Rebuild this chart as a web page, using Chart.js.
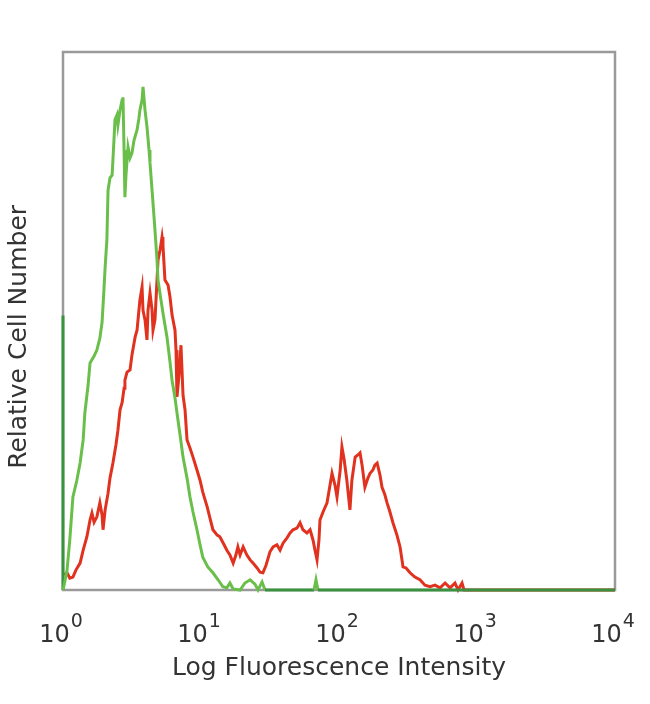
<!DOCTYPE html>
<html>
<head>
<meta charset="utf-8">
<script src="https://cdn.jsdelivr.net/npm/chart.js@4"></script>
<style>
  html, body { margin: 0; padding: 0; background: #fff; }
  #wrap { width: 650px; height: 704px; }
</style>
</head>
<body>
<div id="wrap"><canvas id="histChart"></canvas></div>
<script>
// 蛍光強度 (log軸) と相対細胞数
const greenIntensity = [1, 1, 1.03, 1.07, 1.12, 1.18, 1.26, 1.33, 1.40, 1.44, 1.52, 1.57, 1.68, 1.76, 1.85, 1.92, 1.98,
  2.02, 2.08, 2.12, 2.19, 2.27, 2.34, 2.38, 2.46, 2.50, 2.59, 2.68, 2.72, 2.77, 2.81, 2.86, 2.96, 3.06,
  3.16, 3.27, 3.44, 3.55, 3.61, 3.74, 3.80, 3.93, 4.06, 4.20, 4.27, 4.42, 4.64, 4.80, 4.88, 5.13, 5.30,
  5.67, 5.96, 6.17, 6.48, 6.70, 7.05, 7.41, 7.92, 8.32, 8.75, 9.35, 9.84, 10.3, 11.2, 12.2, 13.3, 14.4,
  15.4, 16.2, 17.1, 19.2, 20.8, 22.7, 24.6, 25.9, 27.7, 29.1, 65.9, 68.1, 70.4, 10000];
const greenCount = [51, 0, 1.5, 3.7, 9.3, 17.3, 20.4, 23.6, 27.9, 32.9, 38.1, 42.2, 43.5, 44.6, 46.8, 49.8, 55.8,
  60.0, 65.1, 74.3, 76.6, 77.1, 83.6, 87.4, 88.3, 86.4, 89.2, 91.1, 91.6, 81.8, 73.0, 77.1, 82.3, 80.3,
  81.2, 83.6, 85.5, 87.7, 89.2, 91.1, 93.5, 89.2, 86.1, 81.8, 79.4, 74.3, 66.9, 61.3, 57.6, 53.9, 51.5,
  47.0, 42.4, 39.0, 35.7, 32.9, 28.8, 24.7, 20.8, 17.3, 14.5, 11.2, 8.4, 6.1, 4.3, 3.2, 1.9, 0.6,
  0.4, 1.3, 0.2, 0, 1.3, 1.9, 1.1, 0, 1.5, 0, 0, 1.9, 0, 0];

const redIntensity = [1.02, 1.07, 1.12, 1.18, 1.24, 1.33, 1.40, 1.49, 1.57, 1.62, 1.68, 1.76, 1.85, 1.92, 1.95,
  2.02, 2.12, 2.19, 2.30, 2.42, 2.50, 2.59, 2.68, 2.77, 2.81, 2.91, 3.06, 3.16, 3.33, 3.44, 3.55, 3.61,
  3.74, 3.80, 3.93, 4.06, 4.13, 4.27, 4.42, 4.49, 4.64, 4.80, 4.88, 5.05, 5.22, 5.30, 5.48, 5.77, 5.96,
  6.17, 6.48, 6.59, 6.70, 6.93, 7.16, 7.41, 7.66, 7.92, 8.32, 8.75, 9.35, 9.84, 10.3, 11.1, 11.6, 12.2,
  13.1, 13.7, 14.7, 15.4, 16.2, 17.1, 17.9, 18.5, 19.2, 20.2, 21.5, 22.7, 23.8, 25.5, 26.8, 28.1, 29.6,
  31.6, 33.3, 35.5, 37.4, 39.3, 42.0, 44.2, 46.4, 49.6, 52.2, 54.8, 58.6, 61.7, 64.8, 67.0, 69.3, 71.6,
  72.8, 76.6, 81.9, 86.1, 89.0, 93.5, 96.7, 102, 105, 109, 114, 118, 120, 124, 131, 137, 142, 147, 154,
  162, 168, 176, 182, 189, 198, 205, 215, 223, 234, 246, 263, 277, 291, 306, 327, 355, 386, 420, 457,
  496, 540, 587, 638, 693, 729, 779, 805, 10000];
const redCount = [2.8, 3.2, 2.2, 2.4, 3.7, 5.0, 7.4, 9.9, 13.0, 14.3, 12.6, 13.6, 16.2, 13.9, 11.2,
  14.9, 18.0, 20.8, 23.6, 27.0, 29.7, 33.5, 34.8, 37.5, 39.0, 40.5, 40.9, 43.7, 47.0, 48.3, 52.0, 53.9,
  56.3, 52.0, 50.2, 46.5, 52.0, 55.2, 52.0, 48.3, 50.2, 57.6, 61.3, 63.2, 65.6, 64.1, 57.6, 56.7, 54.5,
  51.1, 48.3, 44.6, 35.9, 40.0, 45.5, 36.2, 33.5, 27.9, 26.4, 24.7, 22.3, 20.4, 18.2, 15.4, 13.4, 11.2,
  10.2, 9.9, 8.4, 7.4, 6.5, 5.0, 6.5, 8.0, 6.5, 8.0, 6.5, 5.6, 5.0, 4.1, 3.3, 3.2, 4.6,
  7.1, 8.0, 8.4, 7.4, 8.7, 9.7, 10.6, 11.2, 11.5, 12.5, 11.2, 10.6, 11.2, 9.3, 7.4, 5.6, 9.3,
  13.0, 14.5, 16.2, 19.5, 21.7, 19.5, 17.3, 22.3, 26.6, 24.2, 20.4, 16.7, 14.9, 20.4, 24.7, 25.1, 25.5, 23.2, 19.1,
  20.8, 21.7, 22.3, 23.2, 23.6, 21.4, 19.1, 17.7, 16.2, 14.5, 12.5, 10.2, 8.0, 4.3, 4.1, 3.2, 2.4, 1.9, 0.9, 0.6,
  0.9, 0.4, 1.3, 0.4, 1.3, 0, 1.3, 0, 0];

const decades = [1, 10, 100, 1000, 10000];

const toPoints = (xs, ys) => xs.map((x, i) => ({ x: x, y: ys[i] }));

const FONT = "'DejaVu Sans', Verdana, sans-serif";
const TEXT = '#333333';
const FRAME = '#9a9a9a';

// 枠線を四方に描く
const framePlugin = {
  id: 'frame',
  beforeDatasetsDraw(chart) {
    const a = chart.chartArea;
    const c = chart.ctx;
    c.save();
    c.strokeStyle = FRAME;
    c.lineWidth = 2.5;
    c.strokeRect(a.left, a.top, a.right - a.left, a.bottom - a.top);
    c.restore();
  }
};

// 10のべき乗ラベル (指数を大きめに)
const powerLabels = {
  id: 'powerLabels',
  afterDraw(chart) {
    const s = chart.scales.x;
    const c = chart.ctx;
    c.save();
    c.fillStyle = TEXT;
    c.textBaseline = 'alphabetic';
    c.textAlign = 'left';
    s.ticks.forEach(t => {
      const base = '10';
      const exp = String(Math.round(Math.log10(t.value)));
      c.font = "24px " + FONT;
      const w1 = c.measureText(base).width;
      c.font = "19px " + FONT;
      const w2 = c.measureText(exp).width;
      const px = s.getPixelForValue(t.value);
      const x0 = px - (w1 + 1 + w2) / 2 - 2;
      c.font = "24px " + FONT;
      c.fillText(base, x0, 642);
      c.font = "19px " + FONT;
      c.fillText(exp, x0 + w1 + 1, 627);
    });
    c.restore();
  }
};

const ctx1 = document.getElementById('histChart').getContext('2d');

new Chart(ctx1, {
  type: 'line',
  data: {
    datasets: [
      {
        label: 'Green',
        data: toPoints(greenIntensity, greenCount),
        borderColor: '#6abf4b',
        borderWidth: 3,
        pointRadius: 0,
        tension: 0,
        fill: false,
        clip: false,
        order: 0,
        segment: {
          // 軸上の部分は濃い緑
          borderColor: c => (c.p0.parsed.y === 0 && c.p1.parsed.y === 0) || c.p0.parsed.x === c.p1.parsed.x ? '#3a9140' : undefined
        }
      },
      {
        label: 'Red',
        data: toPoints(redIntensity, redCount),
        borderColor: '#e0321f',
        borderWidth: 3,
        pointRadius: 0,
        tension: 0,
        fill: false,
        clip: false,
        order: 1
      }
    ]
  },
  options: {
    responsive: true,
    maintainAspectRatio: false,
    animation: false,
    layout: { padding: { top: 52, right: 35, bottom: 0, left: 0 } },
    plugins: {
      legend: { display: false },
      tooltip: { enabled: false }
    },
    scales: {
      x: {
        type: 'logarithmic',
        min: 1,
        max: 10000,
        grid: { display: false },
        border: { display: false },
        afterBuildTicks: s => { s.ticks = decades.map(v => ({ value: v })); },
        afterFit: s => { s.height = 114; s.paddingLeft = 0; s.paddingRight = 0; },
        ticks: { display: false },
        title: {
          display: true,
          text: 'Log Fluorescence Intensity',
          color: TEXT,
          font: { family: FONT, size: 25 },
          padding: { top: 0, bottom: 21 }
        }
      },
      y: {
        min: 0,
        max: 100,
        grid: { display: false },
        border: { display: false },
        ticks: { display: false },
        afterFit: s => { s.width = 63; },
        title: {
          display: true,
          text: 'Relative Cell Number    ',
          color: TEXT,
          font: { family: FONT, size: 25 },
          padding: { top: 4, bottom: 0 }
        }
      }
    }
  },
  plugins: [framePlugin, powerLabels]
});
</script>
</body>
</html>
